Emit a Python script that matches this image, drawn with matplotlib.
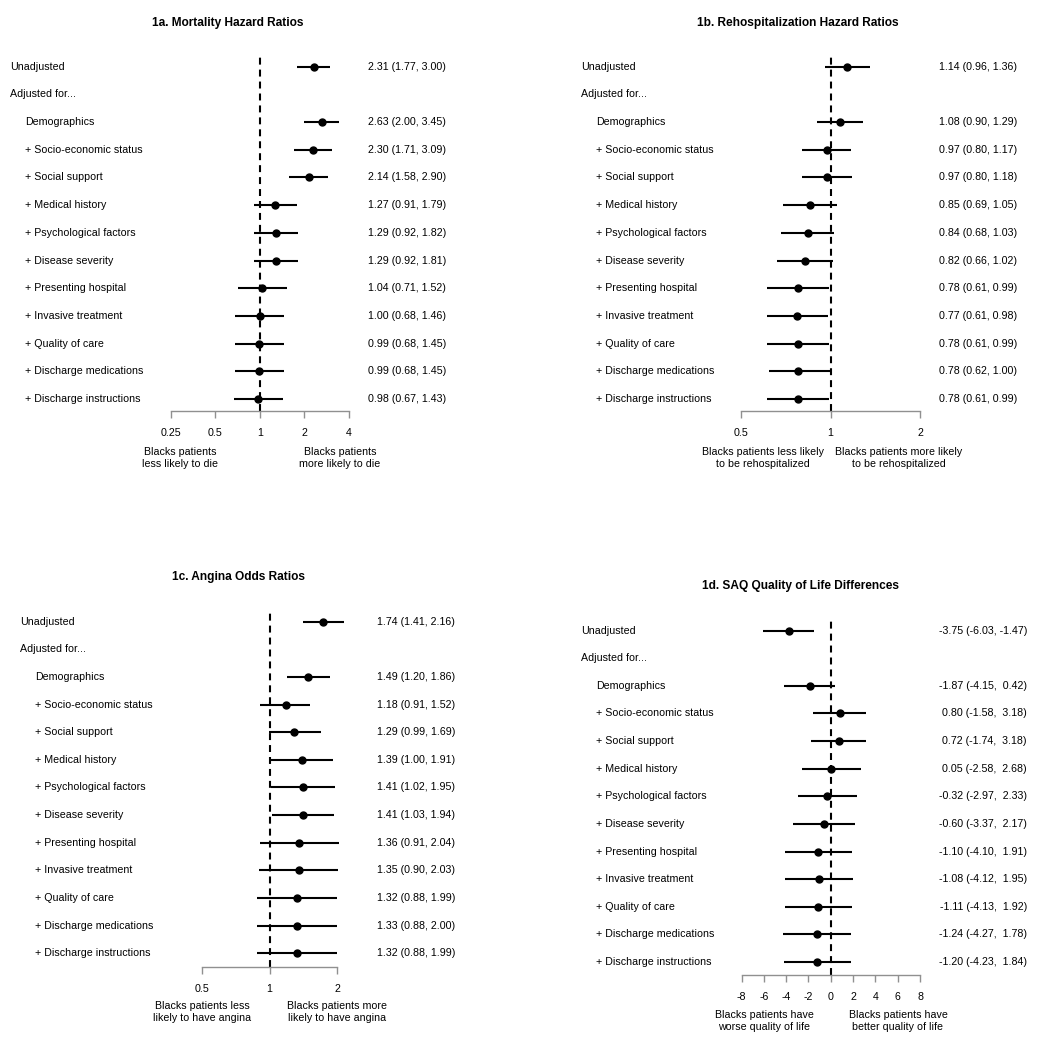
import numpy as np
import matplotlib
matplotlib.use("Agg")
import matplotlib.pyplot as plt
from matplotlib.transforms import blended_transform_factory

plt.rcParams['font.family'] = ['Liberation Sans', 'DejaVu Sans']
plt.rcParams['lines.scale_dashes'] = False

W, H = 1050, 1037

labels = ["Demographics", "+ Socio-economic status", "+ Social support",
          "+ Medical history", "+ Psychological factors", "+ Disease severity",
          "+ Presenting hospital", "+ Invasive treatment", "+ Quality of care",
          "+ Discharge medications", "+ Discharge instructions"]

# first entry is the unadjusted estimate, then the 11 adjusted models
mort_est = [2.31, 2.63, 2.30, 2.14, 1.27, 1.29, 1.29, 1.04, 1.00, 0.99, 0.99, 0.98]
mort_lo = [1.77, 2.00, 1.71, 1.58, 0.91, 0.92, 0.92, 0.71, 0.68, 0.68, 0.68, 0.67]
mort_hi = [3.00, 3.45, 3.09, 2.90, 1.79, 1.82, 1.81, 1.52, 1.46, 1.45, 1.45, 1.43]

rehosp_est = [1.14, 1.08, 0.97, 0.97, 0.85, 0.84, 0.82, 0.78, 0.77, 0.78, 0.78, 0.78]
rehosp_lo = [0.96, 0.90, 0.80, 0.80, 0.69, 0.68, 0.66, 0.61, 0.61, 0.61, 0.62, 0.61]
rehosp_hi = [1.36, 1.29, 1.17, 1.18, 1.05, 1.03, 1.02, 0.99, 0.98, 0.99, 1.00, 0.99]

angina_est = [1.74, 1.49, 1.18, 1.29, 1.39, 1.41, 1.41, 1.36, 1.35, 1.32, 1.33, 1.32]
angina_lo = [1.41, 1.20, 0.91, 0.99, 1.00, 1.02, 1.03, 0.91, 0.90, 0.88, 0.88, 0.88]
angina_hi = [2.16, 1.86, 1.52, 1.69, 1.91, 1.95, 1.94, 2.04, 2.03, 1.99, 2.00, 1.99]

saq_est = [-3.75, -1.87, 0.80, 0.72, 0.05, -0.32, -0.60, -1.10, -1.08, -1.11, -1.24, -1.20]
saq_lo = [-6.03, -4.15, -1.58, -1.74, -2.58, -2.97, -3.37, -4.10, -4.12, -4.13, -4.27, -4.23]
saq_hi = [-1.47, 0.42, 3.18, 3.18, 2.68, 2.33, 2.17, 1.91, 1.95, 1.92, 1.78, 1.84]

FS = 7.7


def px_axes(fig, x0, x1, y0, y1):
    return fig.add_axes([x0 / W, 1 - y1 / H, (x1 - x0) / W, (y1 - y0) / H])


def forest(fig, box, est, lo, hi, title, title_xy, ticks, ticklabels, logscale,
           ref, lab_x, txt_x, notes, note_y, ybot, fmt, ytop=-0.42):
    ax = px_axes(fig, *box)
    rows = np.array([0] + list(range(2, 13)))
    if logscale:
        ax.set_xscale('log', base=2)
    ax.set_xlim(ticks[0], ticks[-1])
    ax.set_ylim(ybot, ytop)

    ax.axvline(ref, color='black', lw=1.5, dashes=(5, 3.6))
    ax.hlines(rows, lo, hi, color='black', lw=1.5, clip_on=False)
    ax.plot(est, rows, 'o', color='black', ms=5, clip_on=False)

    for s in ['top', 'right', 'left']:
        ax.spines[s].set_visible(False)
    ax.spines['bottom'].set_color('#909090')
    ax.spines['bottom'].set_linewidth(1.0)
    ax.set_yticks([])
    ax.set_xticks(ticks)
    ax.set_xticklabels(ticklabels)
    ax.xaxis.set_minor_locator(plt.NullLocator())
    ax.tick_params(axis='x', length=5, width=1.0, color='#909090', labelsize=FS, pad=7.5)

    tr = blended_transform_factory(fig.transFigure, ax.transData)
    ax.text(lab_x / W, 0, "Unadjusted", transform=tr, fontsize=FS, va='center')
    ax.text(lab_x / W, 1, "Adjusted for...", transform=tr, fontsize=FS, va='center')
    for r, lab in zip(rows[1:], labels):
        ax.text((lab_x + 15) / W, r, lab, transform=tr, fontsize=FS, va='center')
    for r, e, l, h in zip(rows, est, lo, hi):
        ax.text(txt_x / W, r, fmt.format(e, l, h), transform=tr,
                fontsize=FS, va='center', ha='right')

    fig.text(title_xy[0] / W, 1 - title_xy[1] / H, title, fontsize=8.6,
             fontweight='bold', ha='center', va='center')
    for (nx, ntext) in notes:
        fig.text(nx / W, 1 - note_y / H, ntext, fontsize=FS, ha='center',
                 va='top', linespacing=1.2)
    return ax


fig = plt.figure(figsize=(W / 100, H / 100), dpi=100)

forest(fig, (170.5, 349, 55, 411), mort_est, mort_lo, mort_hi,
       "1a. Mortality Hazard Ratios", (228, 23),
       [0.25, 0.5, 1, 2, 4], ["0.25", "0.5", "1", "2", "4"], True, 1,
       10, 446,
       [(180, "Blacks patients\nless likely to die"),
        (340, "Blacks patients\nmore likely to die")], 447, 12.43,
       "{:.2f} ({:.2f}, {:.2f})")

forest(fig, (741, 920, 55, 411), rehosp_est, rehosp_lo, rehosp_hi,
       "1b. Rehospitalization Hazard Ratios", (798, 23),
       [0.5, 1, 2], ["0.5", "1", "2"], True, 1,
       581, 1017,
       [(763, "Blacks patients less likely\nto be rehospitalized"),
        (899, "Blacks patients more likely\nto be rehospitalized")], 447, 12.43,
       "{:.2f} ({:.2f}, {:.2f})")

forest(fig, (202, 337, 610, 967), angina_est, angina_lo, angina_hi,
       "1c. Angina Odds Ratios", (238, 577),
       [0.5, 1, 2], ["0.5", "1", "2"], True, 1,
       20, 455,
       [(202, "Blacks patients less\nlikely to have angina"),
        (337, "Blacks patients more\nlikely to have angina")], 1001, 12.5,
       "{:.2f} ({:.2f}, {:.2f})")

forest(fig, (741.5, 920, 619, 975), saq_est, saq_lo, saq_hi,
       "1d. SAQ Quality of Life Differences", (800, 586),
       list(range(-8, 9, 2)), [str(t) for t in range(-8, 9, 2)], False, 0,
       581, 1027,
       [(764, "Blacks patients have\nworse quality of life"),
        (898, "Blacks patients have\nbetter quality of life")], 1010, 12.47,
       "{:.2f} ({:.2f}, {:5.2f})")

fig.savefig("out.png", dpi=100, facecolor='white')
